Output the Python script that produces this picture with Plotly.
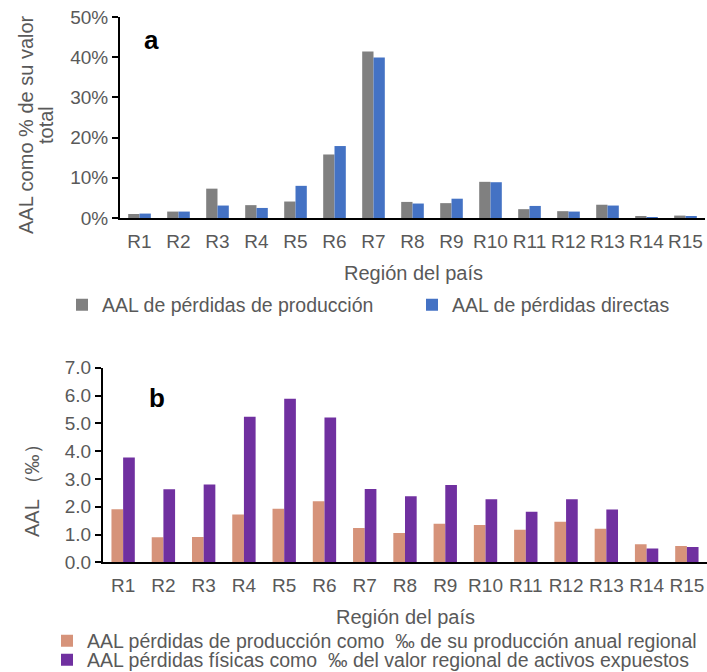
import plotly.graph_objects as go

regions = ["R1", "R2", "R3", "R4", "R5", "R6", "R7", "R8", "R9", "R10", "R11", "R12", "R13", "R14", "R15"]

# Panel a: AAL as % of total value
aal_produccion_pct = [1.0, 1.6, 7.3, 3.2, 4.1, 15.8, 41.4, 4.0, 3.7, 9.0, 2.2, 1.7, 3.3, 0.3, 0.6]
aal_directas_pct = [1.1, 1.6, 3.1, 2.5, 8.0, 17.9, 39.9, 3.6, 4.8, 8.9, 3.0, 1.6, 3.1, 0.1, 0.25]

# Panel b: AAL in per mille
aal_prod_permil = [1.91, 0.90, 0.91, 1.72, 1.93, 2.20, 1.23, 1.05, 1.39, 1.34, 1.17, 1.46, 1.21, 0.65, 0.59]
aal_fisicas_permil = [3.77, 2.63, 2.80, 5.24, 5.88, 5.21, 2.64, 2.38, 2.78, 2.27, 1.82, 2.27, 1.90, 0.50, 0.55]

ticks_a = [0, 10, 20, 30, 40, 50]
ticks_a_text = ["0%", "10%", "20%", "30%", "40%", "50%"]
ticks_b = [0, 1, 2, 3, 4, 5, 6, 7]
ticks_b_text = ["0.0", "1.0", "2.0", "3.0", "4.0", "5.0", "6.0", "7.0"]

FONT = "Liberation Sans, Arial, sans-serif"
GREY_TXT = "#595959"

W, H = 707, 672
def py(p):
    return 1 - p / H

fig = go.Figure()
fig.add_trace(go.Bar(x=regions, y=aal_produccion_pct, name="AAL de pérdidas de producción",
                     marker=dict(color="#808080", line=dict(width=0)), xaxis="x", yaxis="y", legend="legend"))
fig.add_trace(go.Bar(x=regions, y=aal_directas_pct, name="AAL de pérdidas directas",
                     marker=dict(color="#4472C4", line=dict(width=0)), xaxis="x", yaxis="y", legend="legend2"))
fig.add_trace(go.Bar(x=regions, y=aal_prod_permil, name="AAL pérdidas de producción como  ‰ de su producción anual regional",
                     marker=dict(color="#D6937A", line=dict(width=0)), xaxis="x2", yaxis="y2", legend="legend3"))
fig.add_trace(go.Bar(x=regions, y=aal_fisicas_permil, name="AAL pérdidas físicas como  ‰ del valor regional de activos expuestos",
                     marker=dict(color="#7030A0", line=dict(width=0)), xaxis="x2", yaxis="y2", legend="legend4"))
fig.update_traces(showlegend=True)

axis_common = dict(showgrid=False, zeroline=False, showline=True, linecolor="black", linewidth=2,
                   tickfont=dict(family=FONT, size=19, color=GREY_TXT))

def leg(xpx, ypx):
    return dict(orientation="v", x=xpx / W, y=py(ypx), xref="container", yref="container",
                xanchor="left", yanchor="middle",
                font=dict(family=FONT, size=19.5, color=GREY_TXT), itemwidth=30,
                bgcolor="rgba(0,0,0,0)", borderwidth=0, visible=True)

def ann(text, xpx, ypx, size=20, angle=0, color=GREY_TXT):
    return dict(text=text, x=xpx / W, y=py(ypx), xref="paper", yref="paper",
                xanchor="center", yanchor="middle", textangle=angle, showarrow=False,
                font=dict(family=FONT, size=size, color=color))

fig.update_layout(
    width=W, height=H,
    showlegend=True,
    margin=dict(l=0, r=0, t=0, b=0, autoexpand=False),
    paper_bgcolor="white", plot_bgcolor="white",
    barmode="group", bargap=0.42, bargroupgap=0,
    font=dict(family=FONT, color=GREY_TXT),
    xaxis=dict(domain=[120 / W, 705 / W], anchor="y", type="category", ticks="", ticklabelstandoff=5, **axis_common),
    yaxis=dict(domain=[py(218), py(17)], anchor="x", range=[0, 50], tickvals=ticks_a, ticktext=ticks_a_text,
               ticks="outside", ticklen=6, tickwidth=2, tickcolor="black", **axis_common),
    xaxis2=dict(domain=[103 / W, 707 / W], anchor="y2", type="category", ticks="", ticklabelstandoff=5, **axis_common),
    yaxis2=dict(domain=[py(562.3), py(367.7)], anchor="x2", range=[0, 7], tickvals=ticks_b, ticktext=ticks_b_text,
                ticks="outside", ticklen=6, tickwidth=2, tickcolor="black", **axis_common),
    legend=leg(62, 305),
    legend2=leg(412, 305),
    legend3=leg(47, 641),
    legend4=leg(47, 660),
    annotations=[
        ann("AAL como % de su valor", 26, 125, angle=-90),
        ann("total", 46, 125, angle=-90),
        ann("Región del país", 413, 273),
        ann("AAL （‰）", 32, 486, angle=-90),
        ann("Región del país", 405, 617),
        ann("<b>a</b>", 151, 40, size=26, color="black"),
        ann("<b>b</b>", 157, 398, size=26, color="black"),
    ],
)

fig.write_html("out.html", config={"displayModeBar": False},
               post_script="document.body.style.margin='0';document.body.style.overflow='hidden';")
